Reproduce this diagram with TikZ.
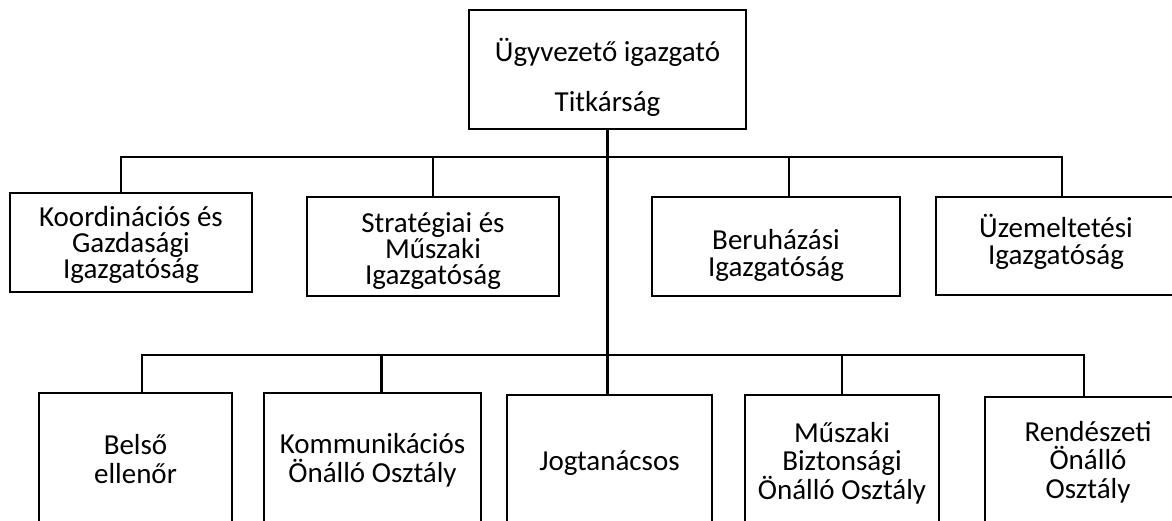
\documentclass[tikz,border=0pt]{standalone}
\usepackage{fontspec}
\setmainfont{Carlito}
\newcommand\mytightlines{\setlength{\lineskiplimit}{-100pt}\setlength{\lineskip}{0pt}}
\begin{document}
\begin{tikzpicture}[x=1pt,y=-1pt,
  unit/.style={draw=black, line width=1.8pt, inner sep=0pt, outer sep=0pt},
  conn/.style={draw=black, line width=2.8pt},
  lbl/.style={align=center, inner sep=0pt, anchor=base,
    font=\fontsize{29}{26}\selectfont\mytightlines},
  lbltwo/.style={lbl, font=\fontsize{29}{28.5}\selectfont\mytightlines}]
\useasboundingbox (0,0) rectangle (1172,520);
\clip (0,0) rectangle (1172,520);
\fill[white] (0,0) rectangle (1172,520);

% boxes
\node[unit, minimum width=277pt, minimum height=119pt] (top) at (607.5,69.5) {};
\node[unit, minimum width=242pt, minimum height=99pt] (b1) at (131,242.5) {};
\node[unit, minimum width=252pt, minimum height=99pt] (b2) at (433,246.5) {};
\node[unit, minimum width=248pt, minimum height=99pt] (b3) at (776,246.5) {};
\node[unit, minimum width=240pt, minimum height=98pt] (b4) at (1056,246) {};
\node[unit, minimum width=193pt, minimum height=160pt] (c1) at (135.5,473) {};
\node[unit, minimum width=217pt, minimum height=160pt] (c2) at (372.5,473) {};
\node[unit, minimum width=205pt, minimum height=160pt] (c3) at (609.5,475) {};
\node[unit, minimum width=194pt, minimum height=160pt] (c4) at (842,475) {};
\node[unit, minimum width=206pt, minimum height=160pt] (c5) at (1088,477) {};

% texts (anchor = baseline of the last line)
\node[lbl, font=\fontsize{29}{50}\selectfont] (ttop) at (607.5,111.7) {Ügyvezető igazgató\\Titkárság};
\node[lbl] (t1) at (131,278) {Koordinációs és\\Gazdasági\\Igazgatóság};
\node[lbl] (t2) at (433,284) {Stratégiai és\\Műszaki\\Igazgatóság};
\node[lbl, font=\fontsize{29}{26.5}\selectfont] (t3) at (776,276) {Beruházási\\Igazgatóság};
\node[lbl, font=\fontsize{29}{26.5}\selectfont] (t4) at (1056,264) {Üzemeltetési\\Igazgatóság};
\node[lbltwo] (s1) at (135.5,483) {Belső\\ellenőr};
\node[lbltwo] (s2) at (372.5,482) {Kommunikációs\\Önálló Osztály};
\node[lbltwo] (s3) at (609.5,470.5) {Jogtanácsos};
\node[lbltwo] (s4) at (842,499) {Műszaki\\Biztonsági\\Önálló Osztály};
\node[lbltwo] (s5) at (1088,498) {Rendészeti\\Önálló\\Osztály};

% connectors
\coordinate (h1a) at (121,157);
\coordinate (h1b) at (1062,157);
\coordinate (d3) at (789,157);
\coordinate (h2a) at (142,355);
\coordinate (h2b) at (1084,355);
\coordinate (d6) at (381.5,355);

\draw[conn] (h1a |- b1.north) -- (h1a) -- (h1b) -- (h1b |- b4.north);
\draw[conn] (b2.north |- h1a) -- (b2.north);
\draw[conn] (d3) -- (d3 |- b3.north);
\draw[conn] (h2a |- c1.north) -- (h2a) -- (h2b) -- (h2b |- c5.north);
\draw[conn] (d6) -- (d6 |- c2.north);
\draw[conn] (c4.north |- h2a) -- (c4.north);
\draw[conn] (top.south) -- (top.south |- c3.north);
\end{tikzpicture}
\end{document}
